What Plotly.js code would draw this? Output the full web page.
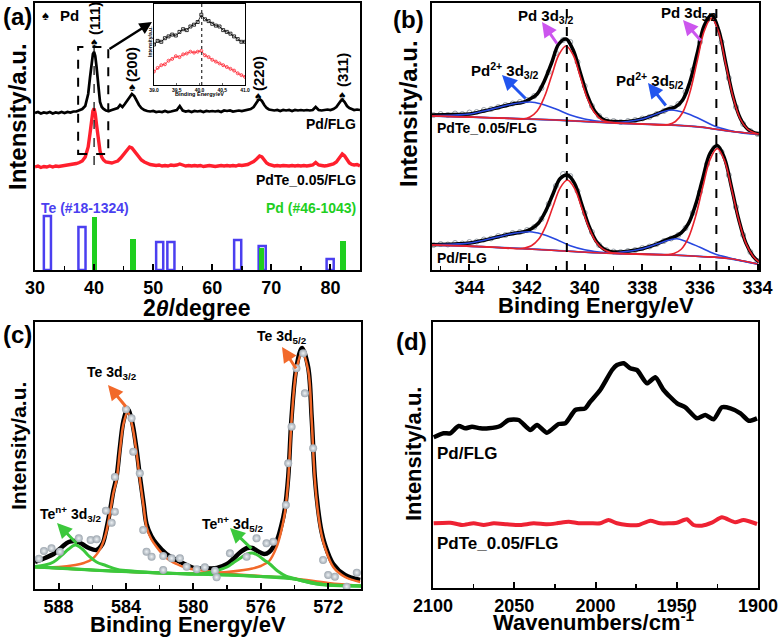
<!DOCTYPE html>
<html>
<head>
<meta charset="utf-8">
<script src="https://cdn.plot.ly/plotly-3.0.1.min.js"></script>
<style>html,body{margin:0;padding:0;background:#fff;}#chart{width:779px;height:641px;}</style>
</head>
<body>
<div id="chart"></div>
<script>
// ---------- Panel (a): XRD ----------
const xrdX_PdFLG = [30,30.5,31,31.5,32,32.5,33,33.5,34,34.5,35,35.5,36,36.5,37,37.5,38,38.5,39,39.3,39.6,39.8,40.0,40.2,40.4,40.6,40.8,41.0,41.3,41.6,42,42.5,43,43.5,44,44.4,44.8,45.2,45.6,46,46.4,46.8,47.2,47.6,48,48.5,49,49.5,50,50.5,51,51.5,52,52.5,53,53.5,54,54.5,55,55.5,56,56.5,57,57.5,58,58.5,59,59.5,60,60.5,61,61.5,62,62.5,63,63.5,64,64.5,65,65.5,66,66.5,67,67.4,67.8,68.1,68.4,68.8,69.2,69.6,70,70.5,71,71.5,72,72.5,73,73.5,74,74.5,75,75.5,76,76.5,77,77.5,78,78.5,79,79.5,80,80.5,81,81.4,81.8,82.1,82.4,82.8,83.2,83.6,84,84.5,85];
const xrdY_PdFLG = [157,158,156.5,157.5,157,158,156.5,157.5,157,158,157,158,157.5,158.5,158.5,160,161,164,176,192,210,216,218,214,204,189,176,168,163,161,159.5,159,160,161,162,165,163,166,169,173,176,174,169,165,162,160,159,158.5,159,158,158.5,158,159,158,158.5,159,160,164,159.5,158.5,159,158,159,158.5,159,158,159,158.5,159,158.5,159,158,159.5,159,159.5,158.5,159,159.5,159,159.5,160,161,163,167,170,170.5,169,165,162,160.5,160,159.5,160,159,160,159.5,160,159,160,159.5,160,159.5,160,159.5,160,163,160,159.5,160,160.5,160,161,163,166,169.5,170,168,164,162,161,160,160.5,160];
const xrdX_PdTe = [30,30.5,31,31.5,32,32.5,33,33.5,34,34.5,35,35.5,36,36.5,37,37.5,38,38.5,39,39.3,39.6,39.8,40.0,40.2,40.4,40.6,40.8,41.0,41.3,41.6,42,42.5,43,43.5,44,44.5,45,45.5,46,46.4,46.8,47.2,47.6,48,48.5,49,49.5,50,50.5,51,51.5,52,52.5,53,53.5,54,54.5,55,55.5,56,56.5,57,57.5,58,58.5,59,59.5,60,60.5,61,61.5,62,62.5,63,63.5,64,64.5,65,65.5,66,66.5,67,67.5,68,68.4,68.8,69.2,69.6,70,70.5,71,71.5,72,72.5,73,73.5,74,74.5,75,75.5,76,76.5,77,77.5,78,78.5,79,79.5,80,80.5,81,81.5,82,82.4,82.8,83.2,83.6,84,84.5,85];
const xrdY_PdTe = [103,104,102.5,103.5,103,104,103,104,103.5,104,104,105,105,106,106.5,107.5,109,113,123,136,152,159,161.5,156,146,135,126,119,113,110,108,107.5,107,108,109,112,116,120,123,122,119,116,113,110,108,106.5,105.5,105,104.5,105,104,104.5,104,105,104.5,105,106,105,104,104.5,104,104.5,104,104.5,103.5,104,104.5,104,103.5,104,104.5,104,104.5,104,104.5,104,105,104.5,105,105.5,107,108.5,111,114,113,110,107,105.5,104.5,104,104.5,104,104.5,104,104,104.5,104,104.5,104,104.5,104,104.5,105,107.5,105,104.5,104,104.5,105,106,108,112,116,114,110,107,105.5,105,105.5,104];
// reference patterns
const teRefPos = [32.1, 37.95, 51.1, 53.0, 64.3, 68.45, 79.95];
const teRefInt = [54, 43, 28, 28, 30, 24, 11];
const pdRefPos = [40.1, 46.6, 68.3, 82.15];
const pdRefInt = [53, 31, 22, 29];
// inset (zoom of the (111) peak)
const insetX = [39.0,39.08,39.16,39.24,39.32,39.4,39.48,39.56,39.64,39.72,39.8,39.88,39.96,40.04,40.12,40.2,40.28,40.36,40.44,40.52,40.6,40.68,40.76,40.84,40.92,41.0];
const insetPdFLG = [60,64,63,67,69,71,70,74,77,76,80,82,85,93,88,86,83,81,80,76,74,72,69,66,63,63];
const insetPdTe = [30,34,37,38,42,44,47,46,49,50,52,51,52,53,48,46,43,41,39,37,35,33,31,28,26,24];

// ---------- Panel (b): Pd 3d XPS ----------
const pdU_dataX = [345.25,345.0,344.75,344.5,344.25,344.0,343.75,343.5,343.25,343.0,342.75,342.5,342.25,342.0,341.75,341.5,341.25,341.0,340.75,340.5,340.25,340.0,339.75,339.5,339.25,339.0,338.75,338.5,338.25,338.0,337.75,337.5,337.25,337.0,336.75,336.5,336.25,336.0,335.75,335.5,335.25,335.0,334.75,334.5,334.25,334.0];
const pdU_dataY = [155,156,155,156.5,156,157.5,158,160,161,163,165,166.5,168,170,174,182,198,217,230,228,208,184,164,154,150,149,148,149,150,151.5,153,156,159,162,166,178,200,228,250,254,228,192,163,146,139,136];
const pdU_envX = [345.3,344.5,344,343.5,343,342.5,342.15,341.9,341.65,341.4,341.15,340.9,340.65,340.4,340.15,339.9,339.65,339.4,339.15,338.9,338.5,338,337.5,337.1,336.85,336.6,336.35,336.1,335.85,335.6,335.35,335.1,334.85,334.6,334.35,334.1,333.95];
const pdU_envY = [155,155.5,156,159,162.5,166,167.7,171,176,189,207,226,231,220,197,174,158.7,151.4,148.7,148.4,148.5,151,156,161,163,170,188,216,244.5,255,240,206.5,173.6,151.7,141,137.2,136];
const pdU_r1X = [345.3,344,343,342.4,342.15,341.9,341.65,341.4,341.15,340.9,340.65,340.4,340.15,339.9,339.65,339.4,339.15,338.9,338,337,336,335,334];
const pdU_r1Y = [154,153,152,151.2,151,153,159,173,194,215,224,215,193,171,157,150,148,147.2,146,145,143,139,136];
const pdU_r2X = [345.3,343,341,339,338,337.4,337.1,336.85,336.6,336.35,336.1,335.85,335.6,335.35,335.1,334.85,334.6,334.35,334.1,333.95];
const pdU_r2Y = [154,152,150,147,146,145,145.5,148.5,157.5,177.4,208.3,239,252,238,205,173,151,141,137,136];
const pdU_b1X = [345.3,344.5,344,343.5,343,342.5,341.9,341.5,341,340.5,340,339.5,339,338,337,336,335,334];
const pdU_b1Y = [154.3,155,156,159,162.5,166,168,166,161,155,151,148.6,147,146,145,143,139,136];
const pdU_b2X = [345.3,343,341,340,339.5,339,338.5,338,337.5,337,336.5,336,335.5,335,334.5,334];
const pdU_b2Y = [154,152,150,148.5,147.8,147.5,148.5,151,156,160,157,151,144,139.8,137,136];
const pdU_bgX = [345.3,344,343,342,341,340,339,338,337,336,335.5,335,334.5,334];
const pdU_bgY = [154,153,152,151,150,148.5,147,146,145,143,141,139,137,136];

const pdL_dataX = pdU_dataX;
const pdL_dataY = [25,26,25.5,27,26.5,28,28.5,30.5,31.5,34,35,37,38,40,43,51,66,84,96,94,79,57,38,25,20,18.5,18,19,20,22,23.5,26,29,31.5,35,42,57,78,106,122,118,95,63,35,18,9];
const pdL_envX = [345.3,344.5,344,343.5,343,342.5,342.1,341.85,341.6,341.35,341.1,340.85,340.6,340.35,340.1,339.85,339.6,339.35,339.1,338.75,338.5,338,337.5,337.15,336.9,336.65,336.4,336.15,335.9,335.65,335.4,335.15,334.9,334.65,334.4,334.15,333.95];
const pdL_envY = [25.3,26,27,29.8,33.2,36.5,38.4,41.3,47,59.1,76,91.5,95,86.5,65.4,43.9,28.8,21.3,18.4,18,18.7,21.3,25.9,30.3,33.1,37.1,46.3,65.4,91.8,116.6,124.5,111.9,82.1,50.2,26.6,13.6,8];
const pdL_r1X = [345.3,344,343,342.35,342.1,341.85,341.6,341.35,341.1,340.85,340.6,340.35,340.1,339.85,339.6,339.35,339.1,338.8,338,337,336,335,334];
const pdL_r1Y = [25,24,22.5,21.2,22,24.3,30.7,44,63.5,82.2,90,81.5,62,42,27.7,20.6,17.6,16.5,16,15,13.5,11.5,6];
const pdL_r2X = [345.3,343,341,339,337.4,337.15,336.9,336.65,336.4,336.15,335.9,335.65,335.4,335.15,334.9,334.65,334.4,334.15,333.95];
const pdL_r2Y = [25,22.5,19.5,16.6,15.2,15.4,16.5,20.8,32.2,53.6,83.1,110.4,121.5,109.6,80.9,49.6,26.4,13.6,8];
const pdL_b1X = [345.3,344.5,344,343.5,343,342.5,341.9,341.5,341,340.5,340,339.5,339,338,337,336,335,334];
const pdL_b1Y = [25.3,26,27,29.8,33.2,36.5,38.2,36,30.7,24.3,20.3,18,16.6,16,15,13.5,11.5,6];
const pdL_b2X = [345.3,343,341,340,339.5,339,338.5,338,337.5,337,336.8,336.5,336,335.5,335,334.5,334];
const pdL_b2Y = [25,22.5,19.5,17.8,17.2,17.1,18.7,21.3,25.9,30.5,31.3,28.8,22.7,16.3,12.3,8.8,6];
const pdL_bgX = [345.3,344,343,342,341,340,339,338,337,336,335.5,335,334.5,334];
const pdL_bgY = [25,24,22.5,21.3,19.7,17.8,16.6,16,15,13.7,12.8,11.5,8.8,6];
const pd0Lines = [340.62, 335.43];

// ---------- Panel (c): Te 3d XPS ----------
const te_dataX = [589.17,588.87,588.42,587.92,586.8,586.1,585.74,585.19,584.85,584.66,584.0,583.67,583.57,583.18,584.66,582.98,582.78,582.48,581.79,581.29,580.8,581.79,580.4,579.8,579.32,578.72,578.62,577.83,576.84,576.25,575.66,575.26,574.51,573.48,573.88,573.38,574.17,572.89,574.37,572.3,572.0,571.6,570.9,570.3];
const te_dataY = [30.3,38,40.7,37.3,50.7,49,49.7,78.3,66.3,77.3,179.7,170.7,137.3,115.7,112,59,37.3,32.3,33,30.7,30.7,19,22.3,19.7,21.7,18.3,11.7,35.7,32.3,50.7,45.7,47.3,84,235.7,220.7,195.7,162.3,140.7,125.7,29,14,12.3,2.3,16.3];
const te_envX = [589.4,588.8,588.3,587.8,587.4,587.0,586.6,586.2,585.75,585.4,585.2,584.95,584.75,584.56,584.35,584.15,583.9,583.65,583.4,583.17,582.95,582.78,582.5,582.18,581.6,581,580.4,580,579,578.6,578,577.64,577.2,576.8,576.5,576.2,575.8,575.5,575.06,574.8,574.57,574.37,574.17,573.88,573.55,573.19,572.98,572.79,572.6,572.4,572.2,571.7,571,570.1];
const te_envY = [27,31,35,42,47,48,45,41,39,45,57,78,98,112,143,168,180,168,143,112,85,65,53,45,35,29,24,21,20.5,21,25,30,37,41,41,38,35,37,48,62,80,112,172,222,241,222,172,112,80,58,45,25,14,9];
const te_o1X = [589.4,588,587,586.5,586,585.5,585.2,584.95,584.75,584.56,584.35,584.15,583.9,583.65,583.4,583.17,582.95,582.78,582.5,582.18,581.6,581,580.4,579,578,576,574,572,570];
const te_o1Y = [22.3,22,24,26,30,41,55,76,96,109,140,165,177,165,140,109,82,62,50,42,31,25,21,17.5,15.5,13,10.5,6,3];
const te_o2X = [589.4,586,583,580,579,578,577,576.5,576,575.5,575.06,574.8,574.57,574.37,574.17,573.88,573.55,573.19,572.98,572.79,572.6,572.4,572.2,571.7,571,570.1];
const te_o2Y = [22,19,16.5,15.5,16,17,19,20.5,23,28,42,57,76,109,169,219,237,219,169,109,76,55,42,22,12,7];
const te_g1X = [589.4,588.8,588.3,587.8,587.4,587.0,586.6,586.2,585.75,585.2,584.5,583.5,582,580,578,576,574,572,570];
const te_g1Y = [22.5,24,27,34,40,44,40,33,27,23.5,19.5,17.8,16.2,15,14,12.5,10,4,3];
const te_g2X = [589.4,585,582,580,579.5,578.6,578,577.64,577.2,576.8,576.5,576.2,575.8,575.46,575,574.5,574,573,572,570];
const te_g2Y = [22,18,16,15,15.3,18.5,22,26,31,35,36,34,29,25,18,13,10.5,6,4,3];
const te_bgX = [589.4,588,586,584,582,580,578,576,575,574.5,574,573.5,573,572.5,572,571,570];
const te_bgY = [22,21,19,17.5,16,15,14,12.5,12,11.5,10,8,6,4.5,4,3.5,3];

// ---------- Panel (d): IR (CO stretch region) ----------
const irX_PdFLG = [2099.6,2093.5,2089.4,2084.2,2080.1,2076,2070.9,2065.8,2058.6,2053.5,2047.3,2040.1,2036,2029.9,2022.7,2018.6,2012.4,2006.3,2003.2,1997.1,1989.8,1986.8,1982.7,1978.6,1974.5,1968.3,1963.2,1958.1,1949.8,1944.7,1937.5,1932.4,1927.3,1922.2,1917.0,1910.8,1905.7,1900.6];
const irY_PdFLG = [150.7,154.7,154.7,162,159.7,161.3,159.7,159.7,162,168,168,158,163,155.3,164,164.7,178,179.7,186.3,198,218,223,224.7,219.7,218,204.7,210.7,198,184.7,180.7,169.7,173,168.7,180.7,179.7,174.7,167.3,169.7];
const irX_PdTe = [2099.6,2089.4,2082.2,2075,2068.8,2062.6,2054.4,2046.2,2038,2029.9,2023.7,2016.5,2010.4,2003.2,1997.1,1992,1986.8,1980.6,1973.5,1966.3,1960.2,1949.9,1943.8,1939.7,1934.6,1928.4,1922.2,1914.0,1908.9,1900.6];
const irY_PdTe = [64.7,65.3,63,64.7,63,64.7,63.7,63,64.7,63.7,64.7,66.3,64.7,64.7,64.7,68,64.7,63,63,67.3,64.7,65.3,68.7,63,62.3,65.3,70.7,65.7,68,64];

// ---------- layout helpers ----------
const W = 779, H = 641;
const FONT = 'Liberation Sans, Arial, Helvetica, sans-serif';
const px = (x) => x / W;
const py = (y) => 1 - y / H;
function T(text, x, y, size, opts) {
  opts = opts || {};
  return Object.assign({
    text: text, x: px(x), y: py(y), xref: 'paper', yref: 'paper', showarrow: false,
    xanchor: 'center', yanchor: 'middle',
    font: {family: FONT, size: size, color: opts.color || '#000', weight: 'bold'}
  }, opts.extra || {});
}
function ARW(tx, ty, hx, hy, color, width) {
  return {text: '', x: px(hx), y: py(hy), xref: 'paper', yref: 'paper', showarrow: true,
    ax: tx - hx, ay: ty - hy, axref: 'pixel', ayref: 'pixel',
    arrowhead: 2, arrowsize: 1, arrowwidth: width || 3, arrowcolor: color, standoff: 0, startstandoff: 0};
}
function xAx(domain, range, dtick, tick0, minor, anchor) {
  return {domain: domain, range: range, anchor: anchor, dtick: dtick, tick0: tick0,
    ticks: 'inside', ticklen: 6, tickwidth: 2, tickcolor: '#000',
    minor: {dtick: minor, ticks: 'inside', ticklen: 4, tickwidth: 1.5, tickcolor: '#000', showgrid: false},
    showline: true, mirror: true, linewidth: 2, linecolor: '#000', showgrid: false, zeroline: false,
    tickfont: {family: FONT, size: 18, color: '#000', weight: 'bold'}};
}
function yAx(domain, range, anchor) {
  return {domain: domain, range: range, anchor: anchor, showticklabels: false, ticks: '',
    showline: true, mirror: true, linewidth: 2, linecolor: '#000', showgrid: false, zeroline: false};
}

const RED = '#ff1f2d', BLUEREF = '#4b3ff0', GREENREF = '#1fcf1f';
const traces = [
  // (a)
  {type: 'bar', x: teRefPos, y: teRefInt, width: 1.2, xaxis: 'x', yaxis: 'y',
   marker: {color: 'rgba(0,0,0,0)', line: {color: BLUEREF, width: 2.5}}},
  {type: 'bar', x: pdRefPos, y: pdRefInt, width: 0.95, xaxis: 'x', yaxis: 'y',
   marker: {color: GREENREF, line: {width: 0}}},
  {type: 'scatter', mode: 'lines', x: xrdX_PdTe, y: xrdY_PdTe, xaxis: 'x', yaxis: 'y',
   line: {color: RED, width: 3.4}},
  {type: 'scatter', mode: 'lines', x: xrdX_PdFLG, y: xrdY_PdFLG, xaxis: 'x', yaxis: 'y',
   line: {color: '#000', width: 2.7}},
  // inset
  {type: 'scatter', mode: 'lines+markers', x: insetX, y: insetPdFLG, xaxis: 'x5', yaxis: 'y5',
   line: {color: '#000', width: 0.8}, marker: {symbol: 'square-open', size: 3, color: '#000', line: {width: 0.8}}},
  {type: 'scatter', mode: 'lines+markers', x: insetX, y: insetPdTe, xaxis: 'x5', yaxis: 'y5',
   line: {color: RED, width: 0.8}, marker: {symbol: 'circle-open', size: 3, color: RED, line: {width: 0.8}}},
  // (b) upper: PdTe_0.05/FLG
  {type: 'scatter', mode: 'markers', x: pdU_dataX, y: pdU_dataY, xaxis: 'x2', yaxis: 'y2',
   marker: {symbol: 'circle-open', size: 5, color: '#9aa2aa', line: {width: 1}}},
  {type: 'scatter', mode: 'lines', x: pdU_envX, y: pdU_envY, xaxis: 'x2', yaxis: 'y2', line: {color: '#000', width: 3.5, shape: 'spline'}},
  {type: 'scatter', mode: 'lines', x: pdU_bgX, y: pdU_bgY, xaxis: 'x2', yaxis: 'y2', line: {color: '#3f7ff0', width: 1.8, shape: 'spline'}},
  {type: 'scatter', mode: 'lines', x: pdU_b1X, y: pdU_b1Y, xaxis: 'x2', yaxis: 'y2', line: {color: '#2848e0', width: 1.6, shape: 'spline'}},
  {type: 'scatter', mode: 'lines', x: pdU_b2X, y: pdU_b2Y, xaxis: 'x2', yaxis: 'y2', line: {color: '#2848e0', width: 1.6, shape: 'spline'}},
  {type: 'scatter', mode: 'lines', x: pdU_r1X, y: pdU_r1Y, xaxis: 'x2', yaxis: 'y2', line: {color: '#e8222c', width: 1.6, shape: 'spline'}},
  {type: 'scatter', mode: 'lines', x: pdU_r2X, y: pdU_r2Y, xaxis: 'x2', yaxis: 'y2', line: {color: '#e8222c', width: 1.6, shape: 'spline'}},
  // (b) lower: Pd/FLG
  {type: 'scatter', mode: 'markers', x: pdL_dataX, y: pdL_dataY, xaxis: 'x2', yaxis: 'y2',
   marker: {symbol: 'circle-open', size: 5, color: '#9aa2aa', line: {width: 1}}},
  {type: 'scatter', mode: 'lines', x: pdL_envX, y: pdL_envY, xaxis: 'x2', yaxis: 'y2', line: {color: '#000', width: 3.5, shape: 'spline'}},
  {type: 'scatter', mode: 'lines', x: pdL_bgX, y: pdL_bgY, xaxis: 'x2', yaxis: 'y2', line: {color: '#3f7ff0', width: 1.8, shape: 'spline'}},
  {type: 'scatter', mode: 'lines', x: pdL_b1X, y: pdL_b1Y, xaxis: 'x2', yaxis: 'y2', line: {color: '#2848e0', width: 1.6, shape: 'spline'}},
  {type: 'scatter', mode: 'lines', x: pdL_b2X, y: pdL_b2Y, xaxis: 'x2', yaxis: 'y2', line: {color: '#2848e0', width: 1.6, shape: 'spline'}},
  {type: 'scatter', mode: 'lines', x: pdL_r1X, y: pdL_r1Y, xaxis: 'x2', yaxis: 'y2', line: {color: '#e8222c', width: 1.6, shape: 'spline'}},
  {type: 'scatter', mode: 'lines', x: pdL_r2X, y: pdL_r2Y, xaxis: 'x2', yaxis: 'y2', line: {color: '#e8222c', width: 1.6, shape: 'spline'}},
  // (c)
  {type: 'scatter', mode: 'lines', x: te_envX, y: te_envY, xaxis: 'x3', yaxis: 'y3', line: {color: '#000', width: 4.5, shape: 'spline'}},
  {type: 'scatter', mode: 'lines', x: te_o1X, y: te_o1Y, xaxis: 'x3', yaxis: 'y3', line: {color: '#f2692a', width: 2.5, shape: 'spline'}},
  {type: 'scatter', mode: 'lines', x: te_o2X, y: te_o2Y, xaxis: 'x3', yaxis: 'y3', line: {color: '#f2692a', width: 2.5, shape: 'spline'}},
  {type: 'scatter', mode: 'lines', x: te_bgX, y: te_bgY, xaxis: 'x3', yaxis: 'y3', line: {color: '#3cc83c', width: 3, shape: 'spline'}},
  {type: 'scatter', mode: 'lines', x: te_g1X, y: te_g1Y, xaxis: 'x3', yaxis: 'y3', line: {color: '#3cc83c', width: 3, shape: 'spline'}},
  {type: 'scatter', mode: 'lines', x: te_g2X, y: te_g2Y, xaxis: 'x3', yaxis: 'y3', line: {color: '#3cc83c', width: 3, shape: 'spline'}},
  {type: 'scatter', mode: 'markers', x: te_dataX, y: te_dataY, xaxis: 'x3', yaxis: 'y3',
   marker: {symbol: 'circle', size: 8, color: '#9ea7b0', gradient: {type: 'radial', color: '#eef2f5'}, line: {width: 0}}},
  // (d)
  {type: 'scatter', mode: 'lines', x: irX_PdFLG, y: irY_PdFLG, xaxis: 'x4', yaxis: 'y4', line: {color: '#000', width: 4.5, shape: 'spline', smoothing: 0.6}},
  {type: 'scatter', mode: 'lines', x: irX_PdTe, y: irY_PdTe, xaxis: 'x4', yaxis: 'y4', line: {color: '#ee2233', width: 4, shape: 'spline', smoothing: 0.6}}
];

const layout = {
  width: W, height: H, margin: {l: 0, r: 0, t: 0, b: 0},
  paper_bgcolor: '#fff', plot_bgcolor: 'rgba(0,0,0,0)', showlegend: false,
  barmode: 'overlay', bargap: 0,
  font: {family: FONT, color: '#000'},
  xaxis: xAx([px(35), px(360)], [30, 85], 10, 30, 5, 'y'),
  yaxis: yAx([py(270), py(3)], [0, 267], 'x'),
  xaxis2: xAx([px(432), px(759)], [345.3, 333.95], 2, 334, 1, 'y2'),
  yaxis2: yAx([py(270), py(3)], [0, 267], 'x2'),
  xaxis3: xAx([px(35), px(361)], [589.4, 570.05], 4, 572, 2, 'y3'),
  yaxis3: yAx([py(589), py(322)], [0, 267], 'x3'),
  xaxis4: xAx([px(433), px(758)], [2100, 1900], 50, 1900, 25, 'y4'),
  yaxis4: yAx([py(588), py(322)], [0, 266], 'x4'),
  xaxis5: {domain: [px(154), px(245)], range: [39, 41], anchor: 'y5', dtick: 0.5, tick0: 39, tickformat: '.1f',
    ticks: 'inside', ticklen: 2, tickwidth: 0.8, showline: true, mirror: true, linewidth: 1, linecolor: '#000',
    showgrid: false, zeroline: false, tickfont: {family: FONT, size: 5, color: '#000', weight: 'bold'}},
  yaxis5: {domain: [py(85), py(4)], range: [15, 105], anchor: 'x5', showticklabels: false, ticks: '',
    showline: true, mirror: true, linewidth: 1, linecolor: '#000', showgrid: false, zeroline: false},
  shapes: [
    {type: 'rect', xref: 'x', yref: 'y', x0: 37.3, x1: 42.4, y0: 116, y1: 223, line: {color: '#000', width: 2, dash: 'dash'}},
    {type: 'line', xref: 'x', yref: 'y', x0: 40.0, x1: 40.0, y0: 105, y1: 226, line: {color: '#000', width: 1.2, dash: 'dash'}},
    {type: 'line', xref: 'x5', yref: 'y5 domain', x0: 40.05, x1: 40.05, y0: 0, y1: 1, line: {color: '#000', width: 1, dash: 'dot'}},
    {type: 'line', xref: 'x2', yref: 'y2 domain', x0: pd0Lines[0], x1: pd0Lines[0], y0: 0, y1: 1, line: {color: '#000', width: 2, dash: 'dash'}},
    {type: 'line', xref: 'x2', yref: 'y2 domain', x0: pd0Lines[1], x1: pd0Lines[1], y0: 0, y1: 1, line: {color: '#000', width: 2, dash: 'dash'}}
  ],
  annotations: [
    // panel labels
    T('(a)', 17, 16, 24), T('(b)', 408, 19, 24), T('(c)', 17, 334, 24), T('(d)', 411, 341, 24),
    // axis titles
    T('Intensity/a.u.', 18, 117, 24, {extra: {textangle: -90}}),
    T('Intensity/a.u.', 408, 114, 24, {extra: {textangle: -90}}),
    T('Intensity/a.u.', 18, 446, 21, {extra: {textangle: -90}}),
    T('Intensity/a.u.', 413, 454, 22, {extra: {textangle: -90}}),
    T('2<i>θ</i>/degree', 197, 308, 23),
    T('Binding Energy/eV', 596, 305, 22),
    T('Binding Energy/eV', 188, 624, 22),
    T('Wavenumbers/cm<sup>-1</sup>', 594, 621, 22),
    // panel (a) texts
    T('♠', 45, 15, 13), T('Pd', 58, 15, 15, {extra: {xanchor: 'left'}}),
    T('(111)', 94, 19, 15, {extra: {textangle: -90}}), T('♠', 94, 42, 12),
    T('(200)', 132, 65, 15, {extra: {textangle: -90}}), T('♠', 132, 87, 12),
    T('(220)', 258, 74, 15, {extra: {textangle: -90}}), T('♠', 258, 96, 12),
    T('(311)', 342, 70, 15, {extra: {textangle: -90}}), T('♠', 342, 95, 12),
    T('Pd/FLG', 358, 124, 14, {extra: {xanchor: 'right'}}),
    T('PdTe_0.05/FLG', 358, 180, 14, {extra: {xanchor: 'right'}}),
    T('Te (#18-1324)', 39, 208, 14, {color: BLUEREF, extra: {xanchor: 'left'}}),
    T('Pd (#46-1043)', 358, 208, 14, {color: GREENREF, extra: {xanchor: 'right'}}),
    ARW(108, 50, 152, 22, '#000', 2.5),
    T('Binding Energy/eV', 199.5, 94, 5.5),
    T('Intensity/a.u.', 150, 42, 5, {extra: {textangle: -90}}),
    // panel (b) texts
    T('Pd 3d<sub>3/2</sub>', 546, 16, 15),
    T('Pd 3d<sub>5/2</sub>', 689, 14, 15),
    T('Pd<sup>2+</sup> 3d<sub>3/2</sub>', 505, 71, 15),
    T('Pd<sup>2+</sup> 3d<sub>5/2</sub>', 650, 81, 15),
    T('PdTe_0.05/FLG', 435, 128, 14, {extra: {xanchor: 'left'}}),
    T('Pd/FLG', 435, 258, 14, {extra: {xanchor: 'left'}}),
    ARW(558, 45, 542, 22, '#cc55ee', 3), ARW(702, 42, 683, 20, '#cc55ee', 3),
    ARW(527, 100, 502, 75, '#2255ee', 3), ARW(667, 107, 648, 83, '#2255ee', 3),
    // panel (c) texts
    T('Te 3d<sub>5/2</sub>', 282, 337, 14),
    T('Te 3d<sub>3/2</sub>', 112, 373, 14),
    T('Te<sup>n+</sup> 3d<sub>3/2</sub>', 70, 514, 14),
    T('Te<sup>n+</sup> 3d<sub>5/2</sub>', 233, 524, 14),
    ARW(297, 370, 282, 347, '#f2692a', 3), ARW(127, 408, 108, 385, '#f2692a', 3),
    ARW(78, 545, 57, 523, '#3cc83c', 3), ARW(253, 550, 230, 528, '#3cc83c', 3),
    // panel (d) texts
    T('Pd/FLG', 435, 453, 17, {extra: {xanchor: 'left'}}),
    T('PdTe_0.05/FLG', 435, 543, 17, {extra: {xanchor: 'left'}})
  ]
};

Plotly.newPlot('chart', traces, layout, {displayModeBar: false, staticPlot: true});
</script>
</body>
</html>
